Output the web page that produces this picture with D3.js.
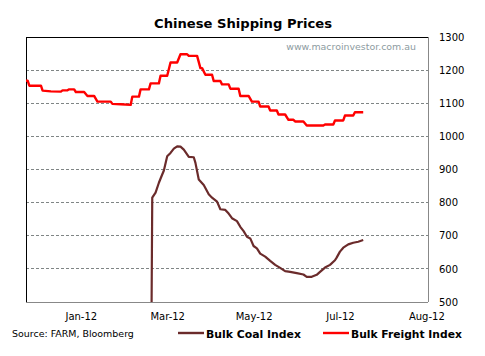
<!DOCTYPE html>
<html><head><meta charset="utf-8">
<script src="https://cdn.jsdelivr.net/npm/d3@7"></script>
<style>body{margin:0;background:#fff}svg{display:block}</style>
</head><body>
<svg id="c" width="485" height="356"></svg>
<script>
// ---------- data ----------
const chartTitle = "Chinese Shipping Prices";
const watermark = "www.macroinvestor.com.au";
const sourceNote = "Source: FARM, Bloomberg";
const seriesNames = ["Bulk Coal Index", "Bulk Freight Index"];
const yTicks = [500, 600, 700, 800, 900, 1000, 1100, 1200, 1300];
const gridValues = [600, 700, 800, 900, 1000, 1100, 1200];
const xDomain = ["2011-12-27", "2012-08-25"];
const xTickDates = ["2012-01-29", "2012-03-21", "2012-05-12", "2012-07-03", "2012-08-24"];

const freightDates = ["2011-12-27","2011-12-28","2011-12-29","2012-01-05","2012-01-06","2012-01-11","2012-01-17","2012-01-18","2012-01-21","2012-01-22","2012-01-25","2012-01-26","2012-01-31","2012-02-02","2012-02-06","2012-02-08","2012-02-16","2012-02-17","2012-02-22","2012-02-28","2012-02-29","2012-03-04","2012-03-05","2012-03-10","2012-03-11","2012-03-16","2012-03-17","2012-03-21","2012-03-23","2012-03-27","2012-03-29","2012-04-02","2012-04-03","2012-04-08","2012-04-10","2012-04-11","2012-04-13","2012-04-17","2012-04-18","2012-04-22","2012-04-23","2012-04-27","2012-04-28","2012-05-03","2012-05-04","2012-05-09","2012-05-11","2012-05-15","2012-05-16","2012-05-21","2012-05-22","2012-05-26","2012-05-27","2012-05-31","2012-06-02","2012-06-05","2012-06-06","2012-06-11","2012-06-13","2012-06-23","2012-06-24","2012-06-29","2012-06-30","2012-07-05","2012-07-06","2012-07-11","2012-07-12","2012-07-17"];
const freightValues = [1168,1168,1153,1153,1138,1136,1135,1139,1139,1142,1142,1134,1134,1122,1122,1105,1105,1098,1097,1095,1120,1120,1142,1142,1160,1160,1183,1183,1223,1223,1248,1248,1243,1243,1206,1206,1186,1186,1167,1167,1157,1157,1144,1144,1122,1122,1105,1105,1090,1090,1078,1078,1066,1066,1050,1050,1045,1045,1033,1033,1036,1036,1048,1048,1063,1063,1073,1073];

const coalDates = ["2012-03-11","2012-03-12","2012-03-14","2012-03-16","2012-03-18","2012-03-19","2012-03-21","2012-03-23","2012-03-25","2012-03-27","2012-03-29","2012-03-31","2012-04-03","2012-04-06","2012-04-07","2012-04-09","2012-04-12","2012-04-15","2012-04-17","2012-04-20","2012-04-22","2012-04-25","2012-04-27","2012-04-29","2012-05-02","2012-05-04","2012-05-06","2012-05-08","2012-05-10","2012-05-12","2012-05-14","2012-05-16","2012-05-19","2012-05-22","2012-05-25","2012-05-28","2012-05-31","2012-06-03","2012-06-07","2012-06-11","2012-06-13","2012-06-16","2012-06-19","2012-06-21","2012-06-24","2012-06-27","2012-06-30","2012-07-01","2012-07-03","2012-07-05","2012-07-08","2012-07-11","2012-07-14","2012-07-17"];
const coalValues = [0,815,830,860,885,897,940,950,963,970,969,960,938,937,920,870,853,825,815,803,780,778,767,753,744,727,714,697,692,669,662,646,637,624,612,603,593,591,587,583,576,576,582,591,604,612,626,634,652,664,674,679,682,687];

// ---------- layout ----------
const W = 485, H = 356;
const L = 26, R = 428, T = 37, B = 302;
const parse = d3.timeParse("%Y-%m-%d");
const svg = d3.select("#c");
const FONT = "Tahoma, 'DejaVu Sans', sans-serif";

const x = d3.scaleTime().domain(xDomain.map(parse)).range([L, R]);
const y = d3.scaleLinear().domain([500, 1300]).range([B, T]);

svg.append("rect").attr("width", W).attr("height", H).attr("fill", "#fff");

function fit(sel, target) {
  const n = sel.node();
  const fs = parseFloat(sel.attr("font-size"));
  const w = n.getComputedTextLength();
  if (w > 0) sel.attr("font-size", (fs * target / w).toFixed(2));
}

// title
const t = svg.append("text").attr("x", 243).attr("y", 28).attr("text-anchor", "middle")
  .attr("font-family", FONT).attr("font-weight", "bold").attr("font-size", 14)
  .attr("fill", "#000").text(chartTitle);
fit(t, 178);

// gridlines
svg.append("g").selectAll("line").data(gridValues).join("line")
  .attr("x1", L).attr("x2", R).attr("y1", d => y(d)).attr("y2", d => y(d))
  .attr("stroke", "#7f8585").attr("stroke-width", 1).attr("stroke-dasharray", "3,2")
  .attr("shape-rendering", "crispEdges");

// frame
svg.append("line").attr("x1", R).attr("x2", R).attr("y1", T).attr("y2", B)
  .attr("stroke", "#888").attr("shape-rendering", "crispEdges");
svg.append("line").attr("x1", L).attr("x2", R).attr("y1", B).attr("y2", B)
  .attr("stroke", "#888").attr("shape-rendering", "crispEdges");
svg.append("line").attr("x1", L).attr("x2", R).attr("y1", T).attr("y2", T)
  .attr("stroke", "#000").attr("shape-rendering", "crispEdges");
svg.append("line").attr("x1", L).attr("x2", L).attr("y1", T).attr("y2", B)
  .attr("stroke", "#000").attr("shape-rendering", "crispEdges");

// watermark
const wm = svg.append("text").attr("x", 416).attr("y", 50).attr("text-anchor", "end")
  .attr("font-family", FONT).attr("font-size", 10).attr("fill", "#8d9ba1").text(watermark);
fit(wm, 130);

// clip
svg.append("clipPath").attr("id", "plot").append("rect")
  .attr("x", L).attr("y", T).attr("width", R - L).attr("height", B - T);

const line = d3.line().x(d => x(d[0])).y(d => y(d[1]));
const freight = freightDates.map((d, i) => [parse(d), freightValues[i]]);
const coal = coalDates.map((d, i) => [parse(d), coalValues[i]]);

const g = svg.append("g").attr("clip-path", "url(#plot)");
g.append("path").datum(freight).attr("d", line).attr("fill", "none")
  .attr("stroke", "#ff0000").attr("stroke-width", 2.4).attr("stroke-linejoin", "round");
g.append("path").datum(coal).attr("d", line).attr("fill", "none")
  .attr("stroke", "#6b2b2b").attr("stroke-width", 2.2).attr("stroke-linejoin", "round");

// right y-axis
const ya = svg.append("g").attr("transform", `translate(${R},0)`)
  .call(d3.axisRight(y).tickValues(yTicks).tickSize(0).tickPadding(11).tickFormat(d3.format("d")));
ya.select(".domain").remove();
ya.selectAll("text").attr("font-family", FONT).attr("font-size", 10).attr("fill", "#000");

// bottom x-axis
const xa = svg.append("g").attr("transform", `translate(0,${B})`)
  .call(d3.axisBottom(x).tickValues(xTickDates.map(parse)).tickSize(0).tickPadding(11)
    .tickFormat(d3.timeFormat("%b-%y")));
xa.select(".domain").remove();
xa.selectAll("text").attr("font-family", FONT).attr("font-size", 10).attr("fill", "#000");

// source + legend
const ly = 333;
const s = svg.append("text").attr("x", 12).attr("y", ly + 4).attr("font-family", FONT)
  .attr("font-size", 10).attr("fill", "#000").text(sourceNote);
fit(s, 122);

const legColors = ["#6b2b2b", "#ff0000"];
const legX = [178, 323];
const legW = [95, 111];
seriesNames.forEach((n, i) => {
  svg.append("line").attr("x1", legX[i]).attr("x2", legX[i] + 26).attr("y1", ly).attr("y2", ly)
    .attr("stroke", legColors[i]).attr("stroke-width", 2.4);
  const tt = svg.append("text").attr("x", legX[i] + 28).attr("y", ly + 4.5)
    .attr("font-family", FONT).attr("font-weight", "bold").attr("font-size", 11)
    .attr("fill", "#000").text(n);
  fit(tt, legW[i]);
});
</script>
</body></html>
